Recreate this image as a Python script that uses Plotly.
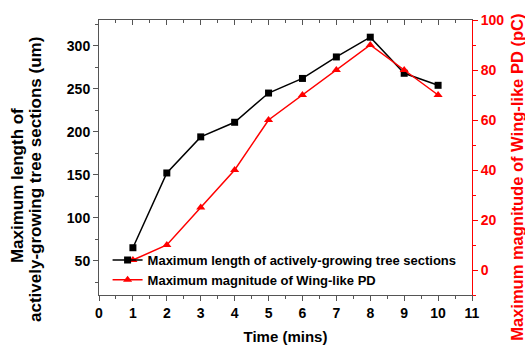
import plotly.graph_objects as go

time_min = [1, 2, 3, 4, 5, 6, 7, 8, 9, 10]
max_length_um = [65, 152, 194, 211, 245, 262, 287, 310, 268, 254]
max_pd_pC = [4, 10, 25, 40, 60, 70, 80, 90, 80, 70]

name_len = "Maximum length of actively-growing tree sections"
name_pd = "Maximum magnitude of Wing-like PD"
left_title_1 = "Maximum length of"
left_title_2 = "actively-growing tree sections (um)"
right_title = "Maximum magnitude of Wing-like PD (pC)"
x_title = "Time (mins)"

FONT = "Arial, Liberation Sans, sans-serif"
AX = "#555555"
RED = "#FF0000"

fig = go.Figure()
fig.add_trace(go.Scatter(
    x=time_min, y=max_length_um, name=name_len, mode="lines+markers",
    line=dict(color="black", width=1.5),
    marker=dict(symbol="square", size=7, color="black"),
    yaxis="y",
))
fig.add_trace(go.Scatter(
    x=time_min, y=max_pd_pC, name=name_pd, mode="lines+markers",
    line=dict(color=RED, width=1.5),
    marker=dict(symbol="triangle-up", size=8, color=RED),
    yaxis="y2",
))
# empty trace to carry the top axis
fig.add_trace(go.Scatter(x=[], y=[], xaxis="x2", yaxis="y", showlegend=False))

tickfont = dict(family=FONT, size=14, color="black", weight="bold")
title_font = dict(family=FONT, size=17, color="black", weight="bold")

fig.update_layout(
    width=525, height=345,
    margin=dict(l=99, r=53, t=20, b=50, autoexpand=False),
    plot_bgcolor="white", paper_bgcolor="white",
    font=dict(family=FONT, color="black"),
    showlegend=True,
    legend=dict(
        x=0.023, y=0.0, xanchor="left", yanchor="bottom",
        bgcolor="rgba(0,0,0,0)",
        font=dict(family=FONT, size=13, color="black", weight="bold"),
        tracegroupgap=0, itemwidth=30,
    ),
    xaxis=dict(
        range=[0, 11], dtick=1, tick0=0, automargin=False,
        showline=True, linecolor=AX, linewidth=1,
        ticks="outside", ticklen=5, tickcolor=AX,
        minor=dict(dtick=0.5, ticklen=3, tickcolor=AX, ticks="outside"),
        showgrid=False, zeroline=False,
        tickfont=tickfont,
        title=dict(text=x_title, standoff=12,
                   font=dict(family=FONT, size=15, color="black", weight="bold")),
    ),
    xaxis2=dict(
        range=[0, 11], dtick=1, tick0=0, overlaying="x", side="top",
        anchor="y", automargin=False,
        showline=True, linecolor=AX, linewidth=1,
        ticks="inside", ticklen=5, tickcolor=AX,
        minor=dict(dtick=0.5, ticklen=3, tickcolor=AX, ticks="inside"),
        showticklabels=False, showgrid=False, zeroline=False,
    ),
    yaxis=dict(
        range=[10, 330], dtick=50, tick0=0, automargin=False,
        showline=True, linecolor=AX, linewidth=1,
        ticks="outside", ticklen=5, tickcolor=AX,
        minor=dict(dtick=25, ticklen=3, tickcolor=AX, ticks="outside"),
        showgrid=False, zeroline=False,
        tickfont=tickfont,
    ),
    yaxis2=dict(
        range=[-10, 100], dtick=20, tick0=0, overlaying="y", side="right",
        anchor="x", automargin=False,
        showline=True, linecolor=RED, linewidth=1,
        ticks="outside", ticklen=5, tickcolor=RED,
        minor=dict(dtick=10, ticklen=3, tickcolor=RED, ticks="outside"),
        showgrid=False, zeroline=False,
        tickfont=dict(family=FONT, size=14, color=RED, weight="bold"),
    ),
    annotations=[
        dict(text=left_title_1, xref="paper", yref="paper", x=-0.2198, y=0.396,
             xanchor="center", yanchor="middle", textangle=-90, showarrow=False,
             font=title_font),
        dict(text=left_title_2, xref="paper", yref="paper", x=-0.1716, y=0.4218,
             xanchor="center", yanchor="middle", textangle=-90, showarrow=False,
             font=title_font),
        dict(text=right_title, xref="paper", yref="paper", x=1.1206, y=0.43,
             xanchor="center", yanchor="middle", textangle=-90, showarrow=False,
             font=dict(family=FONT, size=16.5, color=RED, weight="bold")),
    ],
)

post = "document.body.style.margin='0px';document.body.style.padding='0px';"
fig.write_html("out.html", config={"displayModeBar": False}, post_script=post)
